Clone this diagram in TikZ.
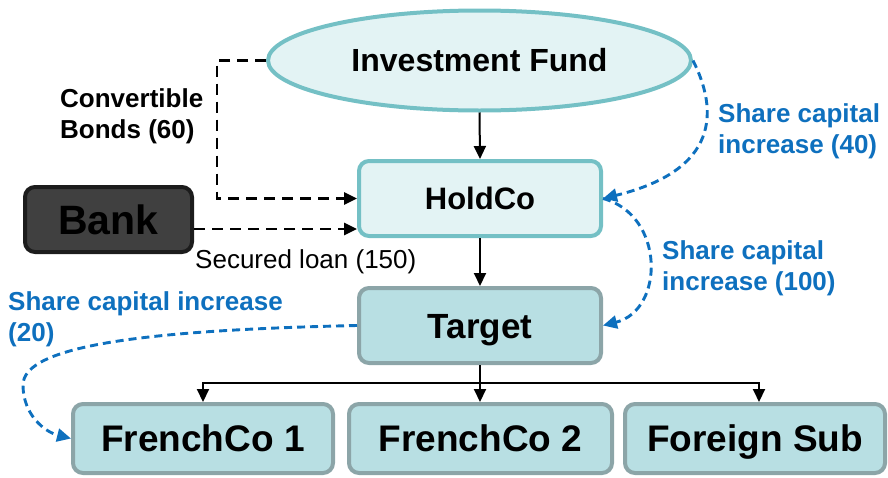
\documentclass[tikz,border=0pt]{standalone}
\usepackage{fontspec}
\setmainfont{Liberation Sans}
\usetikzlibrary{shapes.geometric,arrows.meta}

\definecolor{paleteal}{RGB}{227,243,244}
\definecolor{tealline}{RGB}{116,192,197}
\definecolor{boxfill}{RGB}{184,223,227}
\definecolor{boxline}{RGB}{140,165,168}
\definecolor{bankfill}{RGB}{64,64,64}
\definecolor{bankline}{RGB}{28,28,28}
\definecolor{flowblue}{RGB}{14,112,190}

\tikzset{
  % text is centred on its capital letters (cap height 0.716 of the size)
  capcentre/.style={text height=#1*0.716, text depth=0pt},
  entity/.style={draw, line width=4pt, rounded corners=10pt, inner sep=0pt,
    capcentre=35pt, font=\bfseries\fontsize{35}{40}\selectfont},
  holdbox/.style={entity, fill=paleteal, draw=tealline,
    capcentre=31pt, font=\bfseries\fontsize{31}{36}\selectfont},
  subbox/.style={entity, fill=boxfill, draw=boxline},
  leafbox/.style={subbox, capcentre=37pt, font=\bfseries\fontsize{37}{42}\selectfont},
  bankbox/.style={entity, fill=bankfill, draw=bankline,
    capcentre=41pt, font=\bfseries\fontsize{41}{46}\selectfont},
  fundshape/.style={ellipse, draw=tealline, fill=paleteal, line width=4pt,
    inner sep=0pt, capcentre=32pt, font=\bfseries\fontsize{32}{37}\selectfont},
  owns/.style={line width=2pt, -{Triangle[length=13pt,width=12pt]}},
  busline/.style={line width=2pt},
  fundflow/.style={line width=2.9pt, dash pattern=on 11pt off 7pt,
    -{Triangle[length=13pt,width=12pt]}},
  capflow/.style={draw=flowblue, line width=2.9pt, dash pattern=on 8pt off 5pt,
    -{Triangle[length=14pt,width=13pt]}, flowblue},
  lbl/.style={anchor=base west, inner sep=0pt, align=left,
    font=\bfseries\fontsize{26}{31.5}\selectfont},
  bluelbl/.style={lbl, text=flowblue},
}

\begin{document}
\begin{tikzpicture}[x=1pt, y=-1pt]
  \useasboundingbox (0,0) rectangle (888,477);

  % entities
  \node[fundshape, minimum width=423pt, minimum height=100pt] (fund) at (479.5,60.5) {Investment Fund};
  \node[holdbox, minimum width=242pt, minimum height=75pt] (hold) at (480,198.5) {HoldCo};
  \node[subbox, minimum width=242pt, minimum height=75pt] (target) at (480,325.5) {Target};
  \node[bankbox, minimum width=167pt, minimum height=65pt] (bank) at (108.5,219.5) {Bank};
  \node[leafbox, minimum width=260pt, minimum height=69pt] (fc1) at (203,438.5) {FrenchCo 1};
  \node[leafbox, minimum width=263pt, minimum height=69pt] (fc2) at (480.5,438.5) {FrenchCo 2};
  \node[leafbox, minimum width=260pt, minimum height=69pt] (fs) at (755,438.5) {Foreign Sub};

  % ownership chain
  \draw[owns] (fund.south) -- (hold.north);
  \draw[owns] (hold.south) -- (target.north);
  \coordinate (bus) at (480,383);
  \draw[busline] (target.south) -- (bus);
  \draw[owns] (bus) -- (bus |- fc2.north);
  \draw[owns] (bus) -| (fc1.north);
  \draw[owns] (bus) -| ([xshift=4pt]fs.north);

  % financing flows
  \coordinate (bankout) at ([yshift=-9.5pt]bank.east);
  \draw[fundflow] (fund.west) -- ++(-49,0) |- (hold.west);
  \draw[fundflow] (bankout) -- (hold.west |- bankout);

  % share capital increases
  \draw[capflow] (fund.east) .. controls (718,110) and (720,170) .. (hold.east);
  \draw[capflow] (hold.east) .. controls (665,215) and (665,310) .. (target.east);
  \draw[capflow] (target.west) .. controls (150,330) and (23,345) .. (23,385)
    .. controls (23,415) and (45,432) .. (fc1.west);

  % labels (base anchor sits on the last line)
  \node[lbl] (cblbl) at (60,138.5) {Convertible\\Bonds (60)};
  \node[lbl, font=\fontsize{26}{31.5}\selectfont] (loanlbl) at (195,268) {Secured loan (150)};
  \node[bluelbl] (sc40) at (718,153.5) {Share capital\\increase (40)};
  \node[bluelbl] (sc100) at (662,290.5) {Share capital\\increase (100)};
  \node[bluelbl] (sc20) at (8,341.5) {Share capital increase\\(20)};
\end{tikzpicture}
\end{document}
